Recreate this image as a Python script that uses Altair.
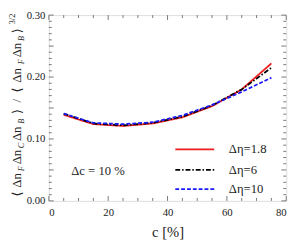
import altair as alt
import pandas as pd

# ---- data ----
c_vals = [5, 15, 25, 35, 45, 55, 65, 75]
red_18 = [0.139, 0.124, 0.121, 0.125, 0.135, 0.153, 0.180, 0.222]
black_6 = [0.141, 0.125, 0.122, 0.126, 0.136, 0.154, 0.180, 0.215]
blue_10 = [0.141, 0.126, 0.124, 0.127, 0.138, 0.155, 0.176, 0.199]
series_names = ["Δη=1.8", "Δη=6", "Δη=10"]
x_major = [0, 20, 40, 60, 80]
x_minor = [5, 10, 15, 25, 30, 35, 45, 50, 55, 65, 70, 75]
y_major = [0.0, 0.05, 0.10, 0.15, 0.20, 0.25, 0.30]
y_minor = [round(0.01 * i, 2) for i in range(31) if i % 5 != 0]

W, H = 244, 191
TOP = 4
SERIF = "'Liberation Serif', 'Times New Roman', 'DejaVu Serif', serif"

rows = []
for name, vals in zip(series_names, [red_18, black_6, blue_10]):
    for c, v in zip(c_vals, vals):
        rows.append({"c": c, "v": v, "s": name})
df = pd.DataFrame(rows)

xs = alt.Scale(domain=[0, 80], nice=False, zero=False)
ys = alt.Scale(domain=[0, 0.30], nice=False, zero=False)

colors = ["#ee1c1c", "#000000", "#1a1aff"]
dashes = [[1, 0], [5, 2, 1.5, 2], [4, 2]]

lines = alt.Chart(df).mark_line(strokeWidth=1.8).encode(
    x=alt.X("c:Q", scale=xs, axis=alt.Axis(
        values=x_major, format="d", title="c  [%]", grid=False, ticks=False, domain=False,
        labelFont=SERIF, labelFontSize=11, labelColor="#222", labelPadding=6,
        titleFont=SERIF, titleFontSize=15, titleFontWeight="normal", titleColor="#222", titlePadding=8)),
    y=alt.Y("v:Q", scale=ys, axis=alt.Axis(
        values=y_major, format=".2f", title=None, grid=False, ticks=False, domain=False,
        labelFont=SERIF, labelFontSize=11, labelColor="#222", labelPadding=4)),
    color=alt.Color("s:N", scale=alt.Scale(domain=series_names, range=colors), legend=None),
    strokeDash=alt.StrokeDash("s:N", scale=alt.Scale(domain=series_names, range=dashes), legend=None),
)

tick_color = "#777"
xt_major = pd.DataFrame({"t": x_major})
xt_minor = pd.DataFrame({"t": x_minor})
yt_major = pd.DataFrame({"t": y_major})
yt_minor = pd.DataFrame({"t": y_minor})

def xticks(d, L):
    b = alt.Chart(d).mark_rule(color=tick_color, strokeWidth=1).encode(
        x=alt.X("t:Q", scale=xs), y=alt.value(H), y2=alt.value(H - L))
    t = alt.Chart(d).mark_rule(color=tick_color, strokeWidth=1).encode(
        x=alt.X("t:Q", scale=xs), y=alt.value(0), y2=alt.value(L))
    return [b, t]

def yticks(d, L):
    l = alt.Chart(d).mark_rule(color=tick_color, strokeWidth=1).encode(
        y=alt.Y("t:Q", scale=ys), x=alt.value(0), x2=alt.value(L))
    r = alt.Chart(d).mark_rule(color=tick_color, strokeWidth=1).encode(
        y=alt.Y("t:Q", scale=ys), x=alt.value(W), x2=alt.value(W - L))
    return [l, r]

ticks = xticks(xt_major, 5) + xticks(xt_minor, 3) + yticks(yt_major, 5) + yticks(yt_minor, 3)

# legend (pixel positions relative to plot area)
leg_y = [138, 159, 179]
leg_layers = []
for name, col, dsh, yy in zip(series_names, colors, dashes, leg_y):
    leg_layers.append(alt.Chart(pd.DataFrame({"s": [name]})).mark_rule(
        color=col, strokeDash=dsh, strokeWidth=1.8).encode(
        x=alt.value(130), x2=alt.value(170), y=alt.value(yy)))
    leg_layers.append(alt.Chart(pd.DataFrame({"s": [name]})).mark_text(
        font=SERIF, fontSize=13, align="left", baseline="middle", color="#222").encode(
        x=alt.value(185), y=alt.value(yy), text="s:N"))

dc_text = alt.Chart(pd.DataFrame({"s": ["Δc = 10 %"]})).mark_text(
    font=SERIF, fontSize=13, align="left", baseline="middle", color="#222").encode(
    x=alt.value(23), y=alt.value(160), text="s:N")

# rotated y title pieces: (text, center y absolute, kind)
title_pieces = [
    ("3/2", 16, "sup"), ("⟩", 28, "main"), ("B", 36, "sub"), ("Δn", 48, "main"),
    ("F", 60, "sub"), ("Δn", 74, "main"), ("⟨", 89, "main"), ("/", 100, "main"),
    ("⟩", 111, "main"), ("B", 121, "sub"), ("Δn", 134, "main"), ("C", 146, "sub"),
    ("Δn", 158, "main"), ("F", 170, "sub"), ("Δn", 182, "main"), ("⟨", 196, "main"),
]
title_layers = []
for txt, yc, kind in title_pieces:
    if kind == "main":
        size, style, dx = 13, "normal", 0
    elif kind == "sub":
        size, style, dx = 8.5, "italic", 4
    else:
        size, style, dx = 8.5, "normal", -5
    title_layers.append(alt.Chart(pd.DataFrame({"s": [txt]})).mark_text(
        font=SERIF, fontSize=size, fontStyle=style, angle=270, align="center",
        baseline="middle", color="#222").encode(
        x=alt.value(-33 + dx), y=alt.value(yc - 8 - TOP), text="s:N"))

chart = alt.layer(*ticks, lines, *leg_layers, dc_text, *title_layers).properties(
    width=W, height=H,
    autosize=alt.AutoSizeParams(type="none"),
    padding={"left": 42, "top": TOP, "right": 8, "bottom": 41},
).configure_view(stroke="#777", strokeWidth=1).configure(background="white", font=SERIF)

chart.save("out.html", embed_options={"renderer": "svg", "actions": False})
